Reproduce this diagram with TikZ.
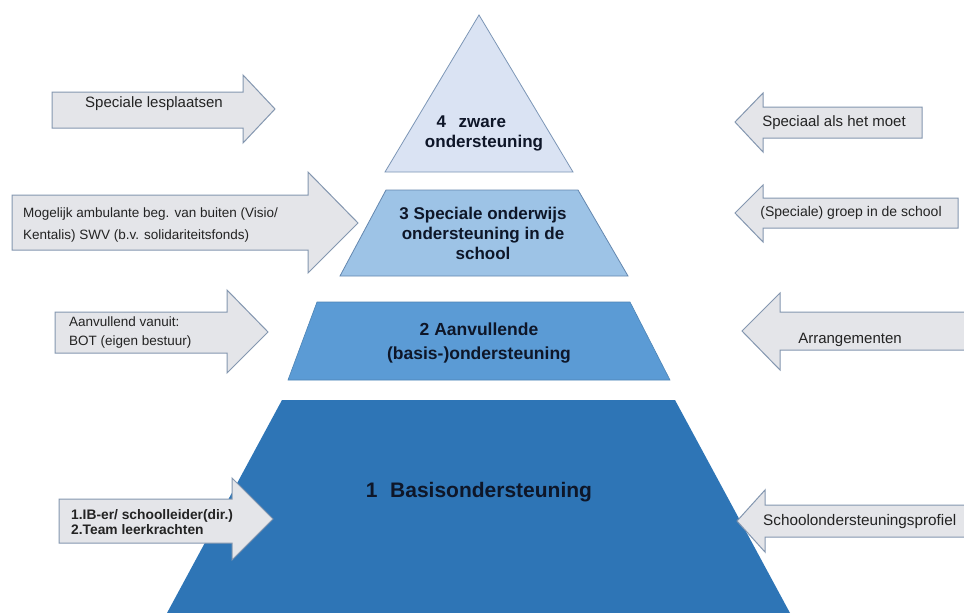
\documentclass[tikz,border=0pt]{standalone}
\usepackage{fontspec}
\setmainfont{Liberation Sans}
\definecolor{arrowfill}{RGB}{228,229,233}
\definecolor{arrowedge}{RGB}{132,151,176}
\definecolor{lfourfill}{RGB}{218,227,243}
\definecolor{lfouredge}{RGB}{124,150,182}
\definecolor{lthreefill}{RGB}{157,195,230}
\definecolor{lthreeedge}{RGB}{100,135,175}
\definecolor{ltwofill}{RGB}{91,155,213}
\definecolor{lonefill}{RGB}{46,117,182}
\definecolor{navytext}{RGB}{14,22,40}
\definecolor{arrowtext}{RGB}{35,35,35}
\begin{document}
\begin{tikzpicture}[x=1pt,y=-1pt,
  arrowshape/.style={fill=arrowfill,draw=arrowedge,line width=1pt,line join=miter},
  lvltext/.style={text=navytext,align=center,inner sep=0pt},
  arrtext/.style={text=arrowtext,inner sep=0pt,font=\fontsize{15}{18}\selectfont},
  arrtextl/.style={text=arrowtext,inner sep=0pt,anchor=west,align=left}]
\useasboundingbox (0,0) rectangle (964,613);
\fill[white] (0,0) rectangle (964,613);

% pyramid levels
\path[fill=lonefill] (282,400) -- (675,400) -- (790,613) -- (167,613) -- cycle;
\path[fill=ltwofill,draw=ltwofill!85!black,line width=0.6pt] (317,302) -- (630,302) -- (670,380) -- (288,380) -- cycle;
\path[fill=lthreefill,draw=lthreeedge,line width=0.8pt] (386,190) -- (578,190) -- (628,276) -- (340,276) -- cycle;
\path[fill=lfourfill,draw=lfouredge,line width=0.8pt] (479,15) -- (573,172) -- (385,172) -- cycle;

\node[lvltext,font=\bfseries\fontsize{17}{20}\selectfont] (lfour) at (484,133) {4\hspace{0.75em}zware\hspace*{1.5em}\\ondersteuning};
\node[lvltext,font=\bfseries\fontsize{17}{20}\selectfont] (lthree) at (483,233) {3 Speciale onderwijs\\ondersteuning in de\\school};
\node[lvltext,font=\bfseries\fontsize{17.5}{24}\selectfont] (ltwo) at (479,343) {2 Aanvullende\\(basis-)ondersteuning};
\node[lvltext,font=\bfseries\fontsize{21}{24}\selectfont] (lone) at (479,492) {1\hspace{0.6em}Basisondersteuning};

% left arrows
\path[arrowshape] (52,92) -- (243,92) -- (243,75) -- (275,109) -- (243,143) -- (243,128) -- (52,128) -- cycle;
\node[arrtext] (aone) at (154,104) {Speciale lesplaatsen};

\path[arrowshape] (12,195) -- (308,195) -- (308,172) -- (358,223) -- (308,273) -- (308,250) -- (12,250) -- cycle;
\node[arrtextl,font=\fontsize{13.5}{21.5}\selectfont] (atwo) at (23,225) {Mogelijk ambulante beg. van buiten (Visio/\\Kentalis) SWV (b.v. solidariteitsfonds)};

\path[arrowshape] (55,312) -- (227,312) -- (227,290) -- (268,332) -- (227,373) -- (227,353) -- (55,353) -- cycle;
\node[arrtextl,font=\fontsize{13.5}{19}\selectfont] (athree) at (69,333) {Aanvullend vanuit:\\BOT (eigen bestuur)};

\path[arrowshape] (59,499) -- (232,499) -- (232,478) -- (273,519) -- (232,560) -- (232,543) -- (59,543) -- cycle;
\node[arrtextl,font=\bfseries\fontsize{13.8}{15.5}\selectfont] (afour) at (71,522) {1.IB-er/ schoolleider(dir.)\\2.Team leerkrachten};

% right arrows
\path[arrowshape] (922,107) -- (763,107) -- (763,93) -- (735,122) -- (763,152) -- (763,138) -- (922,138) -- cycle;
\node[arrtext] (afive) at (834,123) {Speciaal als het moet};

\path[arrowshape] (958,198) -- (763,198) -- (763,185) -- (735,213) -- (763,242) -- (763,228) -- (958,228) -- cycle;
\node[arrtext,font=\fontsize{14}{17}\selectfont] (asix) at (851,213) {(Speciale) groep in de school};

\path[arrowshape] (975,312) -- (780,312) -- (780,293) -- (742,331) -- (780,370) -- (780,350) -- (975,350) -- cycle;
\node[arrtext] (aseven) at (850,340) {Arrangementen};

\path[arrowshape] (975,505) -- (765,505) -- (765,490) -- (737,521) -- (765,552) -- (765,537) -- (975,537) -- cycle;
\node[arrtext,anchor=west,font=\fontsize{15.3}{18}\selectfont] (aeight) at (763,522) {Schoolondersteuningsprofiel};
\end{tikzpicture}
\end{document}
